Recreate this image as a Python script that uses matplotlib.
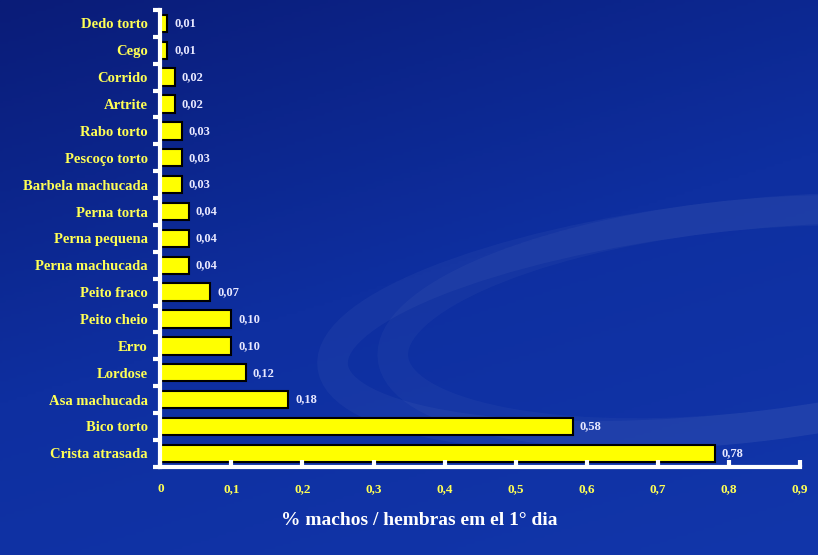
import numpy as np
import matplotlib
matplotlib.use("Agg")
import matplotlib.pyplot as plt
from matplotlib.patches import Ellipse

# dados (de baixo para cima)
categorias = ["Crista atrasada", "Bico torto", "Asa machucada", "Lordose", "Erro",
              "Peito cheio", "Peito fraco", "Perna machucada", "Perna pequena",
              "Perna torta", "Barbela machucada", "Pescoço torto", "Rabo torto",
              "Artrite", "Corrido", "Cego", "Dedo torto"]
valores = [0.78, 0.58, 0.18, 0.12, 0.10, 0.10, 0.07, 0.04, 0.04, 0.04,
           0.03, 0.03, 0.03, 0.02, 0.02, 0.01, 0.01]
ticks_x = [0, 0.1, 0.2, 0.3, 0.4, 0.5, 0.6, 0.7, 0.8, 0.9]
titulo_x = "% machos / hembras em el 1° dia"

fonte = "Liberation Serif"
amarelo = "#ffff55"
branco = "#e8e8ff"

fig = plt.figure(figsize=(8.18, 5.55), dpi=100)

# fundo azul em degrade
bg = fig.add_axes([0, 0, 1, 1])
yy, xx = np.mgrid[0:1:200j, 0:1:300j]
grad = 0.55 * yy + 0.25 * xx
bg.imshow(grad, cmap=matplotlib.colors.LinearSegmentedColormap.from_list(
    "fundo", ["#0a1c78", "#0e2fa0", "#1236aa"]), extent=[0, 1, 0, 1],
    aspect="auto", origin="upper")
# arco claro discreto do lado direito
for w, a in [(1.0, 0.035), (0.85, 0.03)]:
    bg.add_patch(Ellipse((0.9, 0.42), w, 0.38, angle=10, fill=False,
                         lw=22, ec="white", alpha=a))
bg.set_xlim(0, 1)
bg.set_ylim(0, 1)
bg.axis("off")

ax = fig.add_axes([0.196, 0.159, 0.782, 0.823])
ax.patch.set_alpha(0)
y = np.arange(len(categorias))
ax.barh(y, valores, height=0.65, color="#ffff00", edgecolor="black", linewidth=1.5)

for yi, v in zip(y, valores):
    ax.text(v + 0.01, yi, f"{v:.2f}".replace(".", ","), va="center", ha="left",
            color=branco, fontsize=9, fontweight="bold", family=fonte)

ax.set_xlim(0, 0.9)
ax.set_ylim(-0.5, len(categorias) - 0.5)

ax.set_xticks(ticks_x)
ax.set_xticklabels(["0"] + [f"{t:.1f}".replace(".", ",") for t in ticks_x[1:]],
                   color=amarelo, fontsize=9.5, fontweight="bold", family=fonte)
ax.tick_params(axis="x", direction="in", length=5, width=3, color="white", pad=12)

# ticks nas fronteiras das categorias, rotulos no centro
ax.set_yticks(np.arange(-0.5, len(categorias), 1.0))
ax.set_yticklabels([])
ax.set_yticks(y, minor=True)
ax.set_yticklabels(categorias, minor=True, color=amarelo, fontsize=10.5,
                   fontweight="bold", family=fonte)
ax.tick_params(axis="y", which="major", direction="out", length=5, width=3, color="white")
ax.tick_params(axis="y", which="minor", length=0, pad=9)

for s in ["top", "right"]:
    ax.spines[s].set_visible(False)
for s in ["left", "bottom"]:
    ax.spines[s].set_color("white")
    ax.spines[s].set_linewidth(3)

fig.text(0.512, 0.063, titulo_x, ha="center", va="center", color="white",
         fontsize=14, fontweight="bold", family=fonte)

fig.savefig("out.png", dpi=100)
